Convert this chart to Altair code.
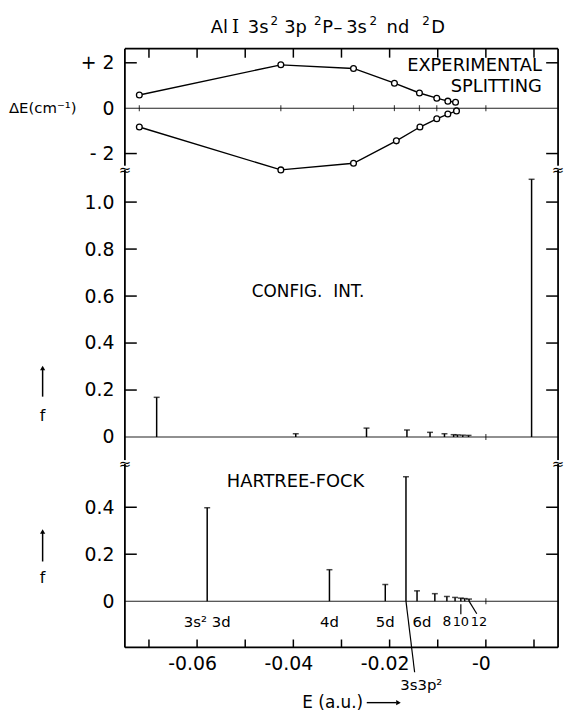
import altair as alt
import pandas as pd

FONT = "DejaVu Sans"
W = 437
H1, H2, H3 = 122, 297, 185

# ---------------- data ----------------
# Experimental splitting (Delta E in cm^-1) vs level energy E (a.u.)
exp_up_E = [-0.0720, -0.0426, -0.0275, -0.0190, -0.0138, -0.0102, -0.0079, -0.0063]
exp_up_dE = [0.58, 1.91, 1.75, 1.10, 0.67, 0.44, 0.31, 0.26]
exp_lo_E = [-0.0720, -0.0426, -0.0275, -0.0186, -0.0137, -0.0102, -0.0079, -0.0061]
exp_lo_dE = [-0.83, -2.72, -2.43, -1.44, -0.83, -0.47, -0.26, -0.12]
level_marks_E = [-0.0720, -0.0426, -0.0275, -0.0190, -0.0138, -0.0102, 0.0]

# Configuration interaction oscillator strengths
ci_E = [-0.0684, -0.0395, -0.0248, -0.0164, -0.0116, -0.0086, -0.0067, -0.0059, -0.0048, -0.0036, 0.0095]
ci_f = [0.169, 0.014, 0.038, 0.030, 0.020, 0.014, 0.010, 0.009, 0.008, 0.007, 1.097]

# Hartree-Fock oscillator strengths
hf_E = [-0.0579, -0.0325, -0.0209, -0.0166, -0.0143, -0.0106, -0.0081, -0.0064, -0.0052, -0.0044, -0.0035]
hf_f = [0.398, 0.134, 0.071, 0.530, 0.044, 0.032, 0.020, 0.016, 0.013, 0.011, 0.009]
hf_names = ["3s² 3d", "4d", "5d", "6d", "8", "10", "12"]
hf_name_idx = [0, 1, 2, 4, 6, 8, 10]

x_ticks = [-0.07, -0.06, -0.05, -0.04, -0.03, -0.02, -0.01, 0.0, 0.01]
x_labels = [-0.06, -0.04, -0.02, 0.0]
dE_ticks = [-2, 0, 2]
ci_ticks = [0, 0.2, 0.4, 0.6, 0.8, 1.0]
hf_ticks = [0, 0.2, 0.4]

X_DOMAIN = [-0.075, 0.015]
DE_DOMAIN = [-2.71, 2.62]
CI_DOMAIN = [-0.115, 1.138]
HF_DOMAIN = [-0.197, 0.584]

# ---------------- helpers ----------------
xscale = alt.Scale(domain=X_DOMAIN, nice=False, zero=False)
bottom_x_axis = alt.Axis(values=x_labels,
                         labelExpr="abs(datum.value) < 1e-9 ? '-0' : '-' + format(abs(datum.value), '.2f')",
                         ticks=False, domain=False, grid=False, title=None,
                         labelFont=FONT, labelFontSize=19, labelPadding=7, labelOffset=-5,
                         labelColor="black")


def xenc(bottom=False, field="E"):
    return alt.X(f"{field}:Q", scale=xscale, axis=bottom_x_axis if bottom else None)


def make_y(domain, values, expr):
    def enc(field="v"):
        return alt.Y(f"{field}:Q", scale=alt.Scale(domain=domain, nice=False, zero=False),
                     axis=alt.Axis(values=values, labelExpr=expr, ticks=False, domain=False,
                                   grid=False, title=None, labelFont=FONT, labelFontSize=19,
                                   labelPadding=11, labelColor="black"))
    return enc


y1 = make_y(DE_DOMAIN, dE_ticks,
            "datum.value > 0 ? '+ ' + datum.value : (datum.value < 0 ? '- ' + (-datum.value) : '0')")
y2 = make_y(CI_DOMAIN, ci_ticks, "datum.value == 0 ? '0' : format(datum.value, '.1f')")
y3 = make_y(HF_DOMAIN, hf_ticks, "datum.value == 0 ? '0' : format(datum.value, '.1f')")


def one():
    return alt.Chart(pd.DataFrame({"k": [0]}))


def ptext(t, x, y, size=18, align="left", font=FONT, **kw):
    return one().mark_text(text=t, font=font, fontSize=size, align=align, baseline="middle",
                           color="black", **kw).encode(x=alt.value(x), y=alt.value(y))


def prule(x, y, x2=None, y2=None, sw=1.8, color="black", opacity=1):
    enc = dict(x=alt.value(x), y=alt.value(y))
    if x2 is not None:
        enc["x2"] = alt.value(x2)
    if y2 is not None:
        enc["y2"] = alt.value(y2)
    return one().mark_rule(strokeWidth=sw, color=color, opacity=opacity).encode(**enc)


def side_ticks(yf, vals):
    df = pd.DataFrame({"v": vals})
    left = alt.Chart(df).mark_rule(strokeWidth=1.5, color="black").encode(
        y=yf(), x=alt.value(0), x2=alt.value(12))
    right = alt.Chart(df).mark_rule(strokeWidth=1.5, color="black").encode(
        y=yf(), x=alt.value(W - 12), x2=alt.value(W))
    return [left, right]


def zero_line(yf):
    return alt.Chart(pd.DataFrame({"v": [0]})).mark_rule(strokeWidth=1.1, color="#222").encode(y=yf())


def cross_marks(yf, Es, bottom=False):
    return alt.Chart(pd.DataFrame({"E": Es, "v": [0] * len(Es)})).mark_tick(
        orient="vertical", size=6, thickness=1.2, color="black").encode(x=xenc(bottom), y=yf())


def spikes(yf, Es, fs, bottom=False):
    df = pd.DataFrame({"E": Es, "v": fs})
    r = alt.Chart(df).mark_rule(strokeWidth=1.5, color="black").encode(
        x=xenc(bottom), y=yf(), y2=alt.datum(0))
    s = alt.Chart(df).mark_tick(orient="horizontal", size=6, thickness=1.5, color="black").encode(
        x=xenc(bottom), y=yf())
    return [r, s]


def break_mark(x, y):
    return [prule(x, y - 4, y2=y + 4, sw=4, color="white"),
            ptext("≈", x, y, size=15, align="center")]


# ---------------- top panel: experimental splitting ----------------
exp_df = pd.DataFrame({
    "E": exp_up_E + exp_lo_E,
    "v": exp_up_dE + exp_lo_dE,
    "s": ["up"] * len(exp_up_E) + ["lo"] * len(exp_lo_E),
    "o": list(range(len(exp_up_E))) + list(range(len(exp_lo_E))),
})
lines = alt.Chart(exp_df).mark_line(strokeWidth=1.4, color="black").encode(
    x=xenc(), y=y1(), detail="s:N", order="o:Q")
pts = alt.Chart(exp_df).mark_point(shape="circle", filled=True, fill="white", stroke="black",
                                    strokeWidth=1.3, size=34, opacity=1).encode(x=xenc(), y=y1())
top_ticks = alt.Chart(pd.DataFrame({"E": x_ticks})).mark_rule(strokeWidth=1.5, color="black").encode(
    x=xenc(), y=alt.value(0), y2=alt.value(9))

# title pieces: (text, left x in px relative to plot, superscript?)
title_parts = [("Al", 86.7, False), ("I", 108, False), ("3s", 124, False), ("2", 147, True),
               ("3p", 160.7, False), ("2", 190.7, True), ("P", 199, False), ("–", 210.5, False),
               ("3s", 223.3, False), ("2", 246.7, True), ("nd", 264, False), ("2", 300, True),
               ("D", 309, False)]

top_layers = [zero_line(y1), cross_marks(y1, level_marks_E), lines, pts, top_ticks]
top_layers += side_ticks(y1, [-2, 2])
top_layers += [prule(0, 0, x2=W), prule(0, 0, y2=H1), prule(W, 0, y2=H1)]
for t, x, sup in title_parts:
    if sup:
        top_layers.append(ptext(t, x, -27.5, size=12))
    elif t == "I":
        top_layers.append(ptext(t, x, -21.3, size=18, font="DejaVu Serif"))
    else:
        top_layers.append(ptext(t, x, -21.3, size=18))
top_layers += [ptext("ΔE(cm⁻¹)", -117, 60, size=15),
               ptext("EXPERIMENTAL", 420.7, 17.3, size=18, align="right"),
               ptext("SPLITTING", 420.7, 39, size=18, align="right")]
top_layers += break_mark(0, H1) + break_mark(W, H1)
# invisible anchor fixing the page origin (left/top margins of the figure)
top_layers.append(prule(-126, -46, x2=0, sw=0.5, color="white", opacity=0))
top = alt.layer(*top_layers).properties(width=W, height=H1)

# ---------------- middle panel: configuration interaction ----------------
mid_layers = [zero_line(y2), cross_marks(y2, [0.0])] + spikes(y2, ci_E, ci_f)
mid_layers += side_ticks(y2, ci_ticks[1:])
mid_layers += [prule(0, 0, y2=H2), prule(W, 0, y2=H2)]
mid_layers += [ptext("CONFIG.\u00a0 INT.", 128, 123.7, size=17),
               one().mark_point(shape="triangle-up", filled=True, color="black", size=28, opacity=1).encode(
                   x=alt.value(-83), y=alt.value(200)),
               prule(-83, 201, y2=229, sw=1.5),
               ptext("f", -83, 248.7, size=16, align="center")]
mid_layers += break_mark(0, H2) + break_mark(W, H2)
mid = alt.layer(*mid_layers).properties(width=W, height=H2)

# ---------------- bottom panel: Hartree-Fock ----------------
bot_layers = [zero_line(y3), cross_marks(y3, [0.0], True)] + spikes(y3, hf_E, hf_f, True)
bot_layers += side_ticks(y3, hf_ticks[1:])
bottom_ticks = alt.Chart(pd.DataFrame({"E": x_ticks})).mark_rule(strokeWidth=1.5, color="black").encode(
    x=xenc(True), y=alt.value(H3 - 8), y2=alt.value(H3))
bot_layers += [bottom_ticks, prule(0, 0, y2=H3), prule(W, 0, y2=H3), prule(0, H3, x2=W)]
label_dx = [0, 0, 0, 5, 0, 0, 10]
label_size = [15, 15, 15, 15, 14, 13, 13]
for name, idx, dx, fs in zip(hf_names, hf_name_idx, label_dx, label_size):
    bot_layers.append(
        alt.Chart(pd.DataFrame({"E": [hf_E[idx]]})).mark_text(
            text=name, font=FONT, fontSize=fs, align="center", baseline="middle", color="black", dx=dx
        ).encode(x=xenc(True), y=alt.value(159)))
# leader lines
bot_layers.append(alt.Chart(pd.DataFrame({"E": [hf_E[3]]})).mark_rule(strokeWidth=1.2, color="black").encode(
    x=xenc(True), y=alt.value(138.3), x2=alt.value(292.3), y2=alt.value(210)))
bot_layers.append(alt.Chart(pd.DataFrame({"E": [hf_E[8]]})).mark_rule(strokeWidth=1.2, color="black").encode(
    x=xenc(True), y=alt.value(141.5), y2=alt.value(151.5)))
bot_layers.append(alt.Chart(pd.DataFrame({"E": [hf_E[10]]})).mark_rule(strokeWidth=1.2, color="black").encode(
    x=xenc(True), y=alt.value(138.3), x2=alt.value(355), y2=alt.value(151)))
bot_layers += [ptext("3s3p²", 299, 223, size=15, align="center"),
               ptext("HARTREE-FOCK", 102.8, 17.7, size=18),
               one().mark_point(shape="triangle-up", filled=True, color="black", size=28, opacity=1).encode(
                   x=alt.value(-83), y=alt.value(68)),
               prule(-83, 69, y2=98.3, sw=1.5),
               ptext("f", -83, 115, size=16, align="center"),
               ptext("E (a.u.)", 179, 240.7, size=17),
               prule(244, 240.7, x2=274, sw=1.4),
               one().mark_point(shape="triangle-right", filled=True, color="black", size=28, opacity=1).encode(
                   x=alt.value(276), y=alt.value(240.7))]
bot = alt.layer(*bot_layers).properties(width=W, height=H3)

chart = alt.vconcat(top, mid, bot, spacing=0, bounds="flush").properties(
    padding=0,
    background="white",
).configure_view(stroke=None)

chart.save("out.html", embed_options={"renderer": "svg", "actions": False})
